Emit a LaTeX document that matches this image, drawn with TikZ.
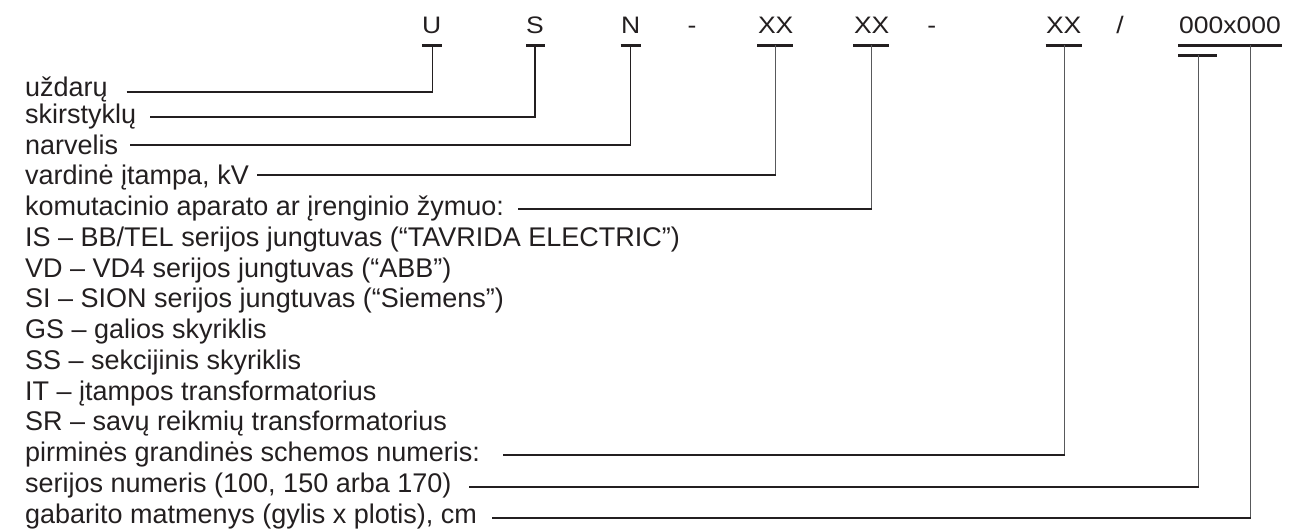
\documentclass[tikz,border=0pt]{standalone}
\usepackage{fontspec}
\setmainfont{Liberation Sans}
\usetikzlibrary{calc}
\definecolor{ink}{HTML}{231F20}
\definecolor{thinink}{HTML}{58595B}
\begin{document}
\begin{tikzpicture}[x=1pt,y=-1pt,
  lbl/.style={inner sep=0pt, anchor=base west, font=\fontsize{27}{30}\selectfont, text=ink},
  code/.style={inner sep=0pt, anchor=base, font=\fontsize{26.5}{30}\selectfont, text=ink},
  bar/.style={line width=3pt, draw=ink},
  hln/.style={line width=2pt, draw=ink},
  vthick/.style={line width=1.5pt, draw=ink},
  vthin/.style={line width=1pt, draw=thinink}]
\useasboundingbox (0,0) rectangle (1306,530);
\newcommand{\sq}[1]{\scalebox{1}[0.9]{#1}}
% top code
\node[code] (cU) at (431.7,33.3) {\sq{U}};
\node[code] (cS) at (535,33.3) {\sq{S}};
\node[code] (cN) at (630.7,33.3) {\sq{N}};
\node[code] (cd1) at (692,33.3) {\sq{-}};
\node[code] (cX1) at (775.7,33.3) {\sq{XX}};
\node[code] (cX2) at (871.7,33.3) {\sq{XX}};
\node[code] (cd2) at (931.7,33.3) {\sq{-}};
\node[code] (cX3) at (1063.7,33.3) {\sq{XX}};
\node[code] (csl) at (1120,33.3) {\sq{/}};
\node[code] (cD) at (1230,33.3) {\sq{000x000}};
% bar anchors
\coordinate (bU) at (432.3,45);
\coordinate (bS) at (535,45);
\coordinate (bN) at (630.7,45);
\coordinate (bX1) at (775.7,45);
\coordinate (bX2) at (871.7,45);
\coordinate (bX3) at (1064,45);
\coordinate (bD1) at (1198.3,55);
\coordinate (bD2) at (1250,45);
\draw[bar] ([xshift=-10.5]bU) -- ([xshift=9.5]bU);
\draw[bar] ([xshift=-9]bS) -- ([xshift=10]bS);
\draw[bar] ([xshift=-10]bN) -- ([xshift=10]bN);
\draw[bar] ([xshift=-18.5]bX1) -- ([xshift=17.5]bX1);
\draw[bar] ([xshift=-18.5]bX2) -- ([xshift=17.5]bX2);
\draw[bar] ([xshift=-18.3]bX3) -- ([xshift=17.7]bX3);
\draw[bar] ([xshift=-20.3]bD1) -- ([xshift=18.7]bD1);
\draw[bar] ([xshift=-72]bD2) -- ([xshift=31.7]bD2);
% labels
\node[lbl] (t1) at (25,96.7) {uždarų};
\node[lbl] (t2) at (25,123.3) {skirstyklų};
\node[lbl] (t3) at (25,154) {narvelis};
\node[lbl] (t4) at (25,184.7) {vardinė įtampa, kV};
\node[lbl] (t5) at (25,215.5) {komutacinio aparato ar įrenginio žymuo:};
\node[lbl] (t6) at (25,246.2) {IS – BB/TEL serijos jungtuvas (“TAVRIDA ELECTRIC”)};
\node[lbl] (t7) at (25,277) {VD – VD4 serijos jungtuvas (“ABB”)};
\node[lbl] (t8) at (25,307.7) {SI – SION serijos jungtuvas (“Siemens”)};
\node[lbl] (t9) at (25,338.5) {GS – galios skyriklis};
\node[lbl] (t10) at (25,369.2) {SS – sekcijinis skyriklis};
\node[lbl] (t11) at (25,400) {IT – įtampos transformatorius};
\node[lbl] (t12) at (25,430.7) {SR – savų reikmių transformatorius};
\node[lbl] (t13) at (25,461.5) {pirminės grandinės schemos numeris:};
\node[lbl] (t14) at (25,492.3) {serijos numeris (100, 150 arba 170)};
\node[lbl] (t15) at (25,523) {gabarito matmenys (gylis x plotis), cm};
% line starts (free ends of the connectors, just right of each label)
\coordinate (L1) at (126.7,91.7);
\coordinate (L2) at (150,116.7);
\coordinate (L3) at (130,145);
\coordinate (L4) at (257,175);
\coordinate (L5) at (518,208.5);
\coordinate (L13) at (503,455);
\coordinate (L14) at (469,486.5);
\coordinate (L15) at (492,517.5);
% corners
\coordinate (K1) at (bU |- L1);
\coordinate (K2) at (bS |- L2);
\coordinate (K3) at (bN |- L3);
\coordinate (K4) at (bX1 |- L4);
\coordinate (K5) at (bX2 |- L5);
\coordinate (K13) at (bX3 |- L13);
\coordinate (K14) at (bD1 |- L14);
\coordinate (K15) at (bD2 |- L15);
% connectors
\draw[vthick] (bU) -- (K1);
\draw[vthick] (bS) -- (K2);
\draw[vthick] (bN) -- (K3);
\draw[vthin] (bX1) -- (K4);
\draw[vthin] (bX2) -- (K5);
\draw[vthin] (bX3) -- (K13);
\draw[vthin] (bD1) -- (K14);
\draw[vthin] (bD2) -- (K15);
\draw[hln] (L1) -- ([xshift=0.75]K1);
\draw[hln] (L2) -- ([xshift=0.75]K2);
\draw[hln] (L3) -- ([xshift=0.75]K3);
\draw[hln] (L4) -- ([xshift=0.5]K4);
\draw[hln] (L5) -- ([xshift=0.5]K5);
\draw[hln] (L13) -- ([xshift=0.5]K13);
\draw[hln] (L14) -- ([xshift=0.5]K14);
\draw[hln] (L15) -- ([xshift=0.5]K15);
\end{tikzpicture}
\end{document}
